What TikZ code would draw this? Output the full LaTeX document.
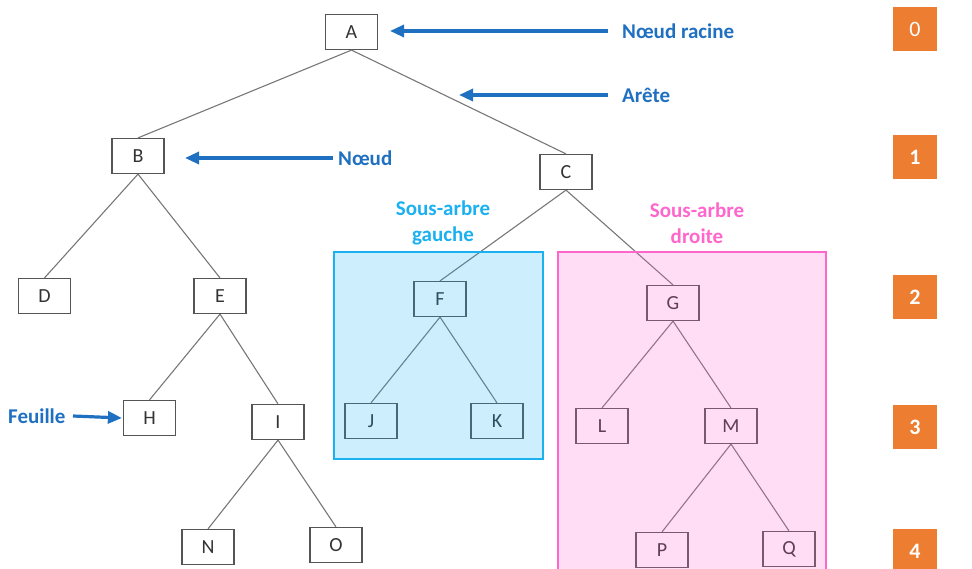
\documentclass[tikz,border=0pt]{standalone}
\usepackage{fontspec}
\setmainfont{Carlito}
\usetikzlibrary{arrows.meta}
\definecolor{edgegray}{HTML}{777777}
\definecolor{boxgray}{HTML}{555555}
\definecolor{txtgray}{HTML}{333333}
\definecolor{annblue}{HTML}{1F70C1}
\definecolor{leftcyan}{HTML}{1BB0F0}
\definecolor{rightpink}{HTML}{FF66CC}
\definecolor{lvlorange}{HTML}{ED7D31}
\tikzset{
  tnode/.style={draw=boxgray, line width=1.2pt, minimum width=52pt, minimum height=35pt,
    inner sep=0pt, font=\fontsize{20}{22}\selectfont, text=txtgray},
  tedge/.style={draw=edgegray, line width=1.1pt},
  annot/.style={font=\fontsize{21}{23}\selectfont\bfseries, text=annblue, inner sep=0pt},
  annarrow/.style={draw=annblue, line width=3.2pt, -{Triangle[length=14pt,width=12pt]}},
  sublabel/.style={font=\fontsize{21}{26}\selectfont\bfseries, align=center, inner sep=0pt},
  lvl/.style={fill=lvlorange, minimum width=44pt, minimum height=44pt, inner sep=0pt,
    text=white, font=\fontsize{22}{24}\selectfont},
  region/.style={line width=1.5pt, fill opacity=0.22}
}
\begin{document}
\begin{tikzpicture}[x=1pt,y=-1pt]
\useasboundingbox (0,0) rectangle (972,569);
% tree nodes
\node[tnode] (A) at (351.5,32) {A};
\node[tnode] (B) at (138,156) {B};
\node[tnode] (C) at (566,172) {C};
\node[tnode] (D) at (44.5,296) {D};
\node[tnode] (E) at (220,296) {E};
\node[tnode] (F) at (440,299) {F};
\node[tnode] (G) at (673,303) {G};
\node[tnode] (H) at (149.5,418) {H};
\node[tnode] (I) at (278,422) {I};
\node[tnode] (J) at (371,421) {J};
\node[tnode] (K) at (497,421) {K};
\node[tnode] (L) at (602,426) {L};
\node[tnode] (M) at (731,426) {M};
\node[tnode] (N) at (208,547) {N};
\node[tnode] (O) at (336,545) {O};
\node[tnode] (P) at (662,550) {P};
\node[tnode] (Q) at (789,549) {Q};
% edges
\foreach \p/\c in {A/B,A/C,B/D,B/E,C/F,C/G,E/H,E/I,F/J,F/K,G/L,G/M,I/N,I/O,M/P,M/Q}
  \draw[tedge] (\p.south) -- (\c.north);
% subtree regions (translucent overlays)
\path[region, draw=leftcyan, fill=leftcyan] (334,252) rectangle (543,459);
\path[region, draw=rightpink, fill=rightpink] (558,252) rectangle (826,575);
\node[sublabel, text=leftcyan] (sg) at (443,223) {Sous-arbre\\gauche};
\node[sublabel, text=rightpink] (sd) at (697,223) {Sous-arbre\\droite};
% annotations
\node[annot, anchor=west] (racine) at (622,31) {Nœud racine};
\node[annot, anchor=west] (arete) at (622,95) {Arête};
\node[annot, anchor=west] (noeud) at (338,158) {Nœud};
\node[annot, anchor=west] (feuille) at (8,416) {Feuille};
\coordinate (tA) at (390,31);
\coordinate (tArete) at (459,95);
\coordinate (tB) at (185,158);
\coordinate (sFeuille) at (73,416);
\draw[annarrow] ([xshift=-14pt]racine.west) -- (tA);
\draw[annarrow] ([xshift=-14pt]arete.west) -- (tArete);
\draw[annarrow] ([xshift=-5pt]noeud.west) -- (tB);
\draw[annarrow] (sFeuille) -- ([xshift=-1pt]H.west);
% levels
\node[lvl] (l0) at (915,29.5) {0};
\node[lvl] (l1) at (915,157) {\bfseries 1};
\node[lvl] (l2) at (915,297) {\bfseries 2};
\node[lvl] (l3) at (915,427) {\bfseries 3};
\node[lvl] (l4) at (915,551) {\bfseries 4};
\end{tikzpicture}
\end{document}
